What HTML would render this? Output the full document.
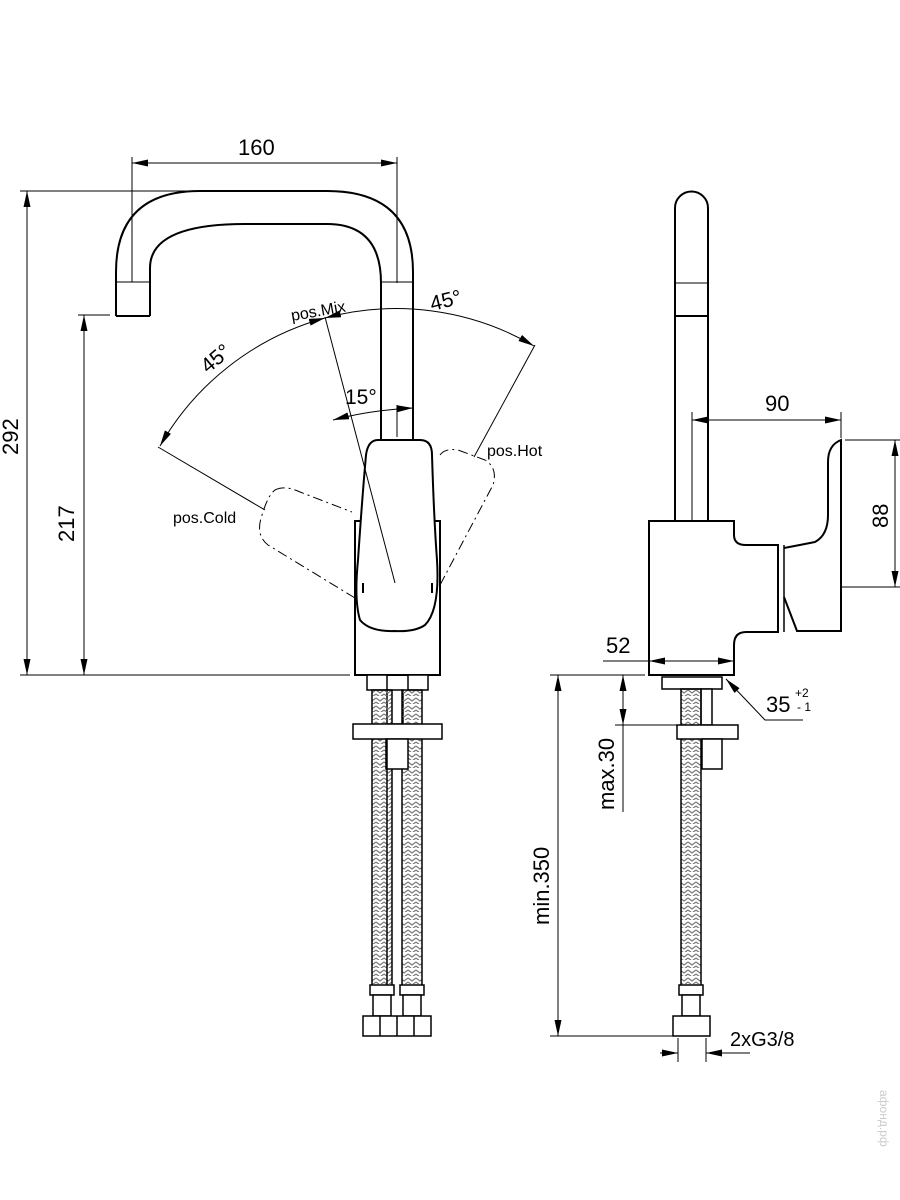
<!DOCTYPE html>
<html><head><meta charset="utf-8"><style>
html,body{margin:0;padding:0;background:#fff;width:900px;height:1200px;overflow:hidden}
svg{display:block}
text{font-family:"Liberation Sans",Arial,sans-serif;fill:#000}
</style></head><body>
<svg width="900" height="1200" viewBox="0 0 900 1200" xmlns="http://www.w3.org/2000/svg">
<defs>
<pattern id="braid" width="8" height="8" patternUnits="userSpaceOnUse">
<path d="M0,2 L4,5 L8,2 M0,6 L4,9 L8,6" fill="none" stroke="#777" stroke-width="1.2"/>
</pattern>
<marker id="a" viewBox="0 0 16 7" refX="16" refY="3.5" markerWidth="16" markerHeight="7" orient="auto-start-reverse" markerUnits="userSpaceOnUse"><path d="M0,0 L16,3.5 L0,7Z" fill="#000"/></marker>
</defs>
<g fill="none" stroke="#000" stroke-width="1">
<line x1="132" y1="163" x2="397" y2="163" marker-start="url(#a)" marker-end="url(#a)"/>
<line x1="132" y1="157" x2="132" y2="282"/>
<line x1="397" y1="157" x2="397" y2="283"/>
<line x1="20" y1="191" x2="200" y2="191"/>
<line x1="27" y1="191" x2="27" y2="675" marker-start="url(#a)" marker-end="url(#a)"/>
<line x1="20" y1="675" x2="350" y2="675"/>
<line x1="78" y1="315" x2="110" y2="315"/>
<line x1="84" y1="315" x2="84" y2="675" marker-start="url(#a)" marker-end="url(#a)"/>
</g>
<g fill="none" stroke="#000" stroke-width="2">
<path d="M116,316 V272 Q116,191 200,191 H327 Q413,191 413,272 V440"/>
<path d="M150,316 V268 Q150,224 245,224 H327 Q381,224 381,283 V440"/>
<line x1="116" y1="316" x2="150" y2="316"/>
<rect x="355" y="521" width="85" height="154"/>
<path d="M378,440 H420 Q432,440 432,455 Q434,520 437,560 Q440,610 425,625 Q415,632 395,631 Q370,632 360,620 Q354,600 358,560 Q362,500 366,455 Q368,440 378,440Z" fill="#fff"/>
</g>
<line x1="381" y1="282" x2="413" y2="282" stroke="#000" stroke-width="1"/>
<line x1="116" y1="282" x2="150" y2="282" stroke="#000" stroke-width="1"/>
<g stroke="#000" stroke-width="2"><line x1="363" y1="583" x2="363" y2="593"/><line x1="432" y1="583" x2="432" y2="593"/></g>
<g fill="none" stroke="#000" stroke-width="1">
<line x1="325" y1="317" x2="395" y2="583"/>
<line x1="158" y1="447" x2="265" y2="510"/>
<line x1="535" y1="345" x2="474" y2="457"/>
<path d="M160,446 A273,273 0 0 1 325,318" marker-start="url(#a)" marker-end="url(#a)"/>
<path d="M325,318 A273,273 0 0 1 534,346" marker-start="url(#a)" marker-end="url(#a)"/>
<path d="M333,420 Q370,410 413,408" marker-start="url(#a)" marker-end="url(#a)"/>
<line x1="397" y1="405" x2="397" y2="437"/>
<path d="M275,490 Q285,485 300,492 L352,512 M355,598 L268,545 Q255,535 262,515 Q268,495 275,490" stroke-dasharray="10,4,2,4"/>
<path d="M440,455 Q445,448 458,450 L485,460 Q498,468 493,485 L440,585" stroke-dasharray="10,4,2,4"/>
</g>
<g stroke="#000" stroke-width="1.5" fill="#fff">
<rect x="367" y="675" width="20" height="15"/><rect x="408" y="675" width="20" height="15"/>
<rect x="387" y="690" width="16" height="34"/>
<rect x="372" y="690" width="20" height="297" fill="url(#braid)"/>
<rect x="402" y="690" width="20" height="297" fill="url(#braid)"/>
<rect x="353" y="724" width="89" height="15"/>
<rect x="386" y="739" width="22" height="30"/>
<rect x="370" y="985" width="24" height="10"/><rect x="400" y="985" width="24" height="10"/>
<rect x="373" y="995" width="18" height="21"/><rect x="403" y="995" width="18" height="21"/>
<rect x="363" y="1016" width="68" height="20"/>
<line x1="380" y1="1016" x2="380" y2="1036"/><line x1="397" y1="1016" x2="397" y2="1036"/><line x1="414" y1="1016" x2="414" y2="1036"/>
<line x1="387" y1="739" x2="387" y2="985"/>
</g>
<g fill="none" stroke="#000" stroke-width="2">
<path d="M675,521 V208 A16.5,16.5 0 0 1 708,208 V521"/>
<path d="M649,521 H734 V535 Q734,545 746,545 H778 V632 H746 Q734,632 734,645 V675 H649Z"/>
<line x1="784" y1="545" x2="784" y2="632" stroke-width="1.5"/>
<path d="M784,548 Q800,545 815,542 Q828,535 828,515 V462 Q828,445 841,440 V631 H797 L784,597"/>
</g>
<g fill="none" stroke="#000" stroke-width="1">
<line x1="675" y1="283" x2="708" y2="283"/><line x1="675" y1="316" x2="708" y2="316" stroke-width="2"/>
<line x1="692" y1="412" x2="692" y2="521"/>
<line x1="692" y1="420" x2="841" y2="420" marker-start="url(#a)" marker-end="url(#a)"/>
<line x1="841" y1="412" x2="841" y2="438"/>
<line x1="845" y1="440" x2="900" y2="440"/><line x1="841" y1="587" x2="900" y2="587"/>
<line x1="895" y1="440" x2="895" y2="587" marker-start="url(#a)" marker-end="url(#a)"/>
<line x1="603" y1="661" x2="649" y2="661"/>
<line x1="649" y1="661" x2="734" y2="661" marker-start="url(#a)" marker-end="url(#a)"/>
<line x1="550" y1="675" x2="645" y2="675"/>
<line x1="558" y1="675" x2="558" y2="1036" marker-start="url(#a)" marker-end="url(#a)"/>
<line x1="550" y1="1036" x2="673" y2="1036"/>
<line x1="623" y1="675" x2="623" y2="725" marker-start="url(#a)" marker-end="url(#a)"/>
<line x1="623" y1="725" x2="623" y2="812"/>
<line x1="615" y1="725" x2="677" y2="725"/>
<polyline points="803,720 765,720 726,679" marker-end="url(#a)"/>
<line x1="678" y1="1038" x2="678" y2="1062"/><line x1="706" y1="1038" x2="706" y2="1062"/>
<line x1="660" y1="1053" x2="678" y2="1053" marker-end="url(#a)"/>
<line x1="750" y1="1053" x2="706" y2="1053" marker-end="url(#a)"/>
</g>
<g stroke="#000" stroke-width="1.5" fill="#fff">
<rect x="662" y="677" width="60" height="12"/>
<rect x="701" y="689" width="11" height="36"/>
<rect x="681" y="689" width="20" height="298" fill="url(#braid)"/>
<rect x="677" y="725" width="61" height="14"/>
<rect x="702" y="739" width="20" height="30"/>
<rect x="679" y="985" width="24" height="10"/>
<rect x="682" y="995" width="18" height="21"/>
<rect x="673" y="1016" width="37" height="20"/>
</g>
<text x="238" y="155" font-size="22">160</text>
<text x="765" y="411" font-size="22">90</text>
<text x="606" y="653" font-size="22">52</text>
<text x="766" y="712" font-size="22">35</text>
<text x="795" y="697" font-size="12">+2</text>
<text x="797" y="711" font-size="12">- 1</text>
<text x="730" y="1046" font-size="20">2xG3/8</text>
<text transform="translate(18,455) rotate(-90)" font-size="22">292</text>
<text transform="translate(74,542) rotate(-90)" font-size="22">217</text>
<text transform="translate(888,528) rotate(-90)" font-size="22">88</text>
<text transform="translate(549,925) rotate(-90)" font-size="22">min.350</text>
<text transform="translate(614,810) rotate(-90)" font-size="22">max.30</text>
<text transform="translate(432,311) rotate(-14)" font-size="21">45°</text>
<text transform="translate(208,374) rotate(-40)" font-size="21">45°</text>
<text x="345" y="404" font-size="21">15°</text>
<text transform="translate(292,321) rotate(-10)" font-size="16">pos.Mix</text>
<text x="487" y="456" font-size="16">pos.Hot</text>
<text x="173" y="523" font-size="16">pos.Cold</text>
<text transform="translate(880,1090) rotate(90)" font-size="12" style="fill:#ccc">афонд.рф</text>
</svg>
</body></html>
